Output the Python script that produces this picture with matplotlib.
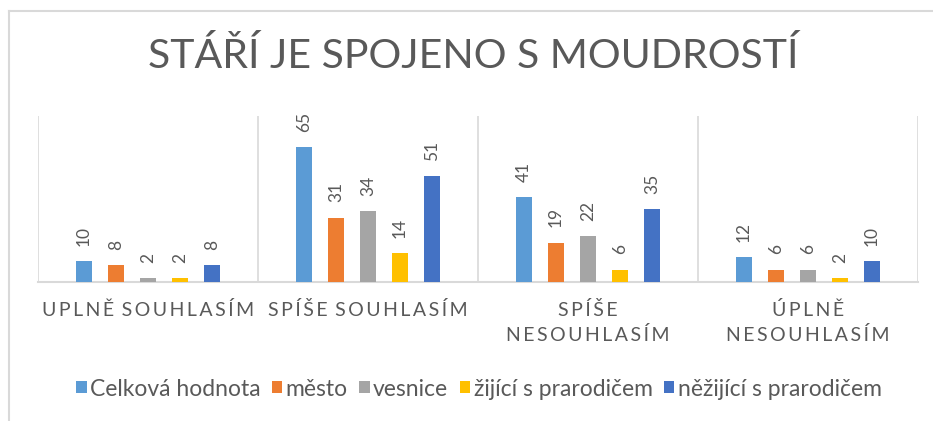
import numpy as np
import matplotlib
matplotlib.use("Agg")
from matplotlib import pyplot as plt
from matplotlib.lines import Line2D

# data
categories = ["UPLNĚ SOUHLASÍM", "SPÍŠE SOUHLASÍM", "SPÍŠE\nNESOUHLASÍM", "ÚPLNĚ\nNESOUHLASÍM"]
series_names = ["Celková hodnota", "město", "vesnice", "žijící s prarodičem", "něžijící s prarodičem"]
celkova = [10, 65, 41, 12]
mesto = [8, 31, 19, 6]
vesnice = [2, 34, 22, 6]
zijici = [2, 14, 6, 2]
nezijici = [8, 51, 35, 10]
title = "STÁŘÍ JE SPOJENO S MOUDROSTÍ"

colors = ["#5B9BD5", "#ED7D31", "#A5A5A5", "#FFC000", "#4472C4"]
text_col = "#595959"
grid_col = "#D9D9D9"

plt.rcParams["font.family"] = ["Lato", "DejaVu Sans"]

W, H = 933, 421
fig = plt.figure(figsize=(W / 100, H / 100), dpi=100)
ax = fig.add_axes([38 / W, 1 - 282 / H, (918 - 38) / W, (282 - 116) / H])

x = np.arange(len(categories))
width = 0.076
step = 0.1455
all_vals = [celkova, mesto, vesnice, zijici, nezijici]
for j, (vals, name, c) in enumerate(zip(all_vals, series_names, colors)):
    pos = x + (j - 2) * step
    bars = ax.bar(pos, vals, width, color=c, label=name, zorder=3)
    for b, v in zip(bars, vals):
        ax.annotate(str(v), (b.get_x() + b.get_width() / 2, v), xytext=(0, 11),
                    textcoords="offset points", rotation=90, ha="center", va="bottom",
                    fontsize=12.5, color=text_col)

ax.set_xlim(-0.5, len(categories) - 0.5)
ax.set_ylim(0, 80)
for s in ["top", "right", "left"]:
    ax.spines[s].set_visible(False)
ax.spines["bottom"].set_color(grid_col)
ax.spines["bottom"].set_linewidth(1.5)
ax.set_yticks([])
ax.set_xticks([])
for b in np.arange(-0.5, len(categories), 1.0):
    ax.axvline(b, color=grid_col, linewidth=1.2, zorder=1)


def spaced(s):
    # wide letter spacing like the Excel axis labels
    lines = []
    for line in s.split("\n"):
        lines.append("\u2009 ".join("\u2009".join(w) for w in line.split(" ")))
    return "\n".join(lines)


for i, cat in enumerate(categories):
    ax.annotate(spaced(cat), (i, 0), xytext=(0, -14), textcoords="offset points",
                ha="center", va="top", fontsize=14, color=text_col, linespacing=1.45,
                annotation_clip=False)

fig.text(473 / W, 1 - 56 / H, title, ha="center", va="center", fontsize=29.5,
         color=text_col)

handles, labels = ax.get_legend_handles_labels()
fig.legend(handles, labels, loc="center", bbox_to_anchor=(479 / W, 1 - 389 / H), ncol=5,
           frameon=False, fontsize=16.5, handlelength=0.45, handleheight=0.45,
           handletextpad=0.15, columnspacing=0.5, labelcolor=text_col)

# outer chart border (partly cropped)
fig.add_artist(Line2D([9 / W, 9 / W], [0, 1 - 11 / H], color=grid_col, linewidth=1.5))
fig.add_artist(Line2D([9 / W, 1], [1 - 11 / H, 1 - 11 / H], color=grid_col, linewidth=1.5))

fig.savefig("out.png", dpi=100)
